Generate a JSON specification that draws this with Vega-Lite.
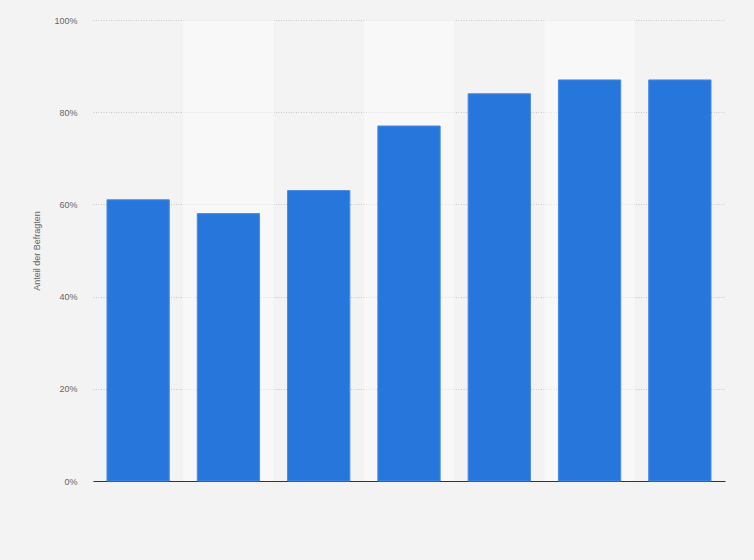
{
  "$schema": "https://vega.github.io/schema/vega-lite/v6.json",
  "autosize": "none",
  "width": 632,
  "height": 461,
  "padding": {"left": 93, "top": 20, "right": 29, "bottom": 79},
  "background": "#f3f3f3",
  "config": {
    "font": "Liberation Sans",
    "view": {"stroke": null},
    "axis": {"labelColor": "#666666", "titleColor": "#666666", "labelFontSize": 9, "titleFontSize": 9, "titleFontWeight": "normal"}
  },
  "data": {
    "values": [
      {"Kategorie": "1", "Anteil": 0.61},
      {"Kategorie": "2", "Anteil": 0.58},
      {"Kategorie": "3", "Anteil": 0.63},
      {"Kategorie": "4", "Anteil": 0.77},
      {"Kategorie": "5", "Anteil": 0.84},
      {"Kategorie": "6", "Anteil": 0.87},
      {"Kategorie": "7", "Anteil": 0.87}
    ]
  },
  "layer": [
    {
      "transform": [
        {"window": [{"op": "row_number", "as": "idx"}]},
        {"filter": "datum.idx % 2 == 0"}
      ],
      "mark": {"type": "rect", "color": "#ffffff", "opacity": 0.45},
      "encoding": {
        "x": {"field": "Kategorie", "type": "nominal", "sort": null, "scale": {"padding": 0, "domain": ["1", "2", "3", "4", "5", "6", "7"]}, "axis": null},
        "y": {
          "datum": 1, "type": "quantitative", "scale": {"domain": [0, 1]},
          "title": "Anteil der Befragten",
          "axis": {
            "format": ".0%", "values": [0, 0.2, 0.4, 0.6, 0.8, 1], "grid": true,
            "domain": false, "ticks": false, "labelPadding": 16, "titlePadding": 12,
            "gridColor": "#c8c8c8", "gridDash": [1, 1.5], "gridWidth": 1
          }
        },
        "y2": {"datum": 0}
      }
    },
    {
      "mark": {"type": "bar", "color": "#2776db", "stroke": "#4a8be6", "strokeWidth": 1},
      "encoding": {
        "x": {
          "field": "Kategorie", "type": "nominal", "sort": null,
          "scale": {"paddingInner": 0.31, "paddingOuter": 0.155},
          "axis": {"title": null, "labels": false, "ticks": false, "domainColor": "#333333", "domainWidth": 1.2, "grid": false}
        },
        "y": {
          "field": "Anteil", "type": "quantitative", "title": "Anteil der Befragten",
          "axis": {
            "format": ".0%", "values": [0, 0.2, 0.4, 0.6, 0.8, 1], "grid": true,
            "domain": false, "ticks": false, "labelPadding": 16, "titlePadding": 12,
            "gridColor": "#c8c8c8", "gridDash": [1, 1.5], "gridWidth": 1
          }
        }
      }
    }
  ],
  "resolve": {"scale": {"x": "independent"}}
}
